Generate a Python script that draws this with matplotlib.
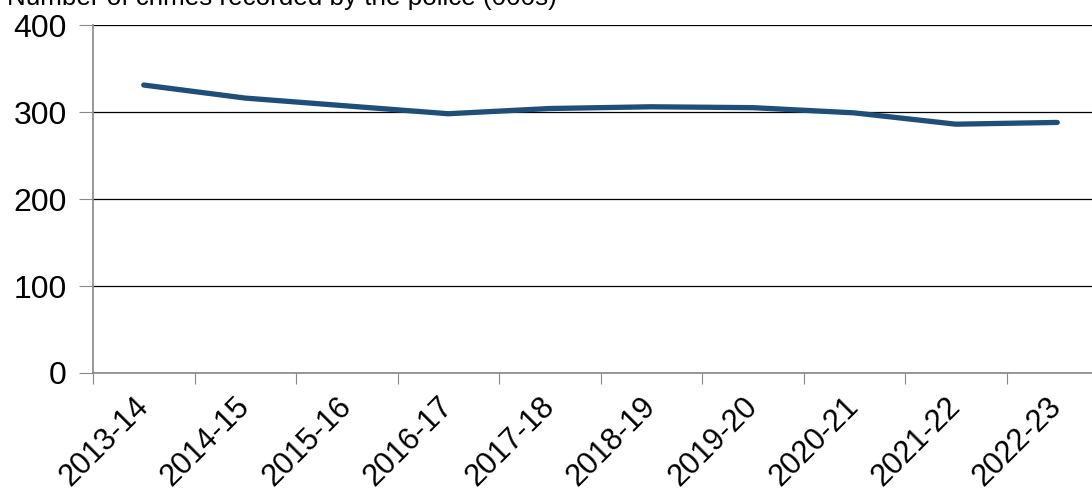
import matplotlib.pyplot as plt
import numpy as np

plt.rcParams['font.family'] = ['Liberation Sans', 'DejaVu Sans']

years = ['2013-14', '2014-15', '2015-16', '2016-17', '2017-18',
         '2018-19', '2019-20', '2020-21', '2021-22', '2022-23']
crimes = [331, 316, 307, 298, 304, 306, 305, 299, 286, 288]
y_ticks = [0, 100, 200, 300, 400]

fig = plt.figure(figsize=(10.92, 4.94), dpi=100)
ax = fig.add_axes([93/1092, 1 - 373/494, 1015/1092, 348/494])

x = np.arange(len(years))
ax.plot(x, crimes, color='#1f4e79', linewidth=3.8, solid_capstyle='round', zorder=3)

ax.set_xlim(-0.5, len(years) - 0.5)
ax.set_ylim(0, 400)
ax.set_yticks(y_ticks)
ax.set_yticklabels([str(v) for v in y_ticks], fontsize=23)
ax.yaxis.grid(True, color='black', linewidth=0.9)
ax.set_axisbelow(True)

# category boundaries get the tick marks, labels sit at the centres
ax.set_xticks(np.arange(len(years) + 1) - 0.5)
ax.set_xticklabels([])
ax.set_xticks(x, minor=True)
ax.set_xticklabels(years, minor=True, rotation=45, ha='right', va='center',
                   rotation_mode='anchor', fontsize=22)
ax.tick_params(axis='x', which='minor', length=0, pad=21)
ax.tick_params(axis='x', which='major', length=8, color='#888888', direction='out')
ax.tick_params(axis='y', length=10, color='#888888', pad=9)

for s in ['top', 'right']:
    ax.spines[s].set_visible(False)
for s in ['left', 'bottom']:
    ax.spines[s].set_color('#888888')
    ax.spines[s].set_linewidth(1.2)

fig.text(7/1092, 1 - 5/494, 'Number of crimes recorded by the police (000s)',
         fontsize=18.7, va='baseline', ha='left')

fig.savefig('out.png', dpi=100)
